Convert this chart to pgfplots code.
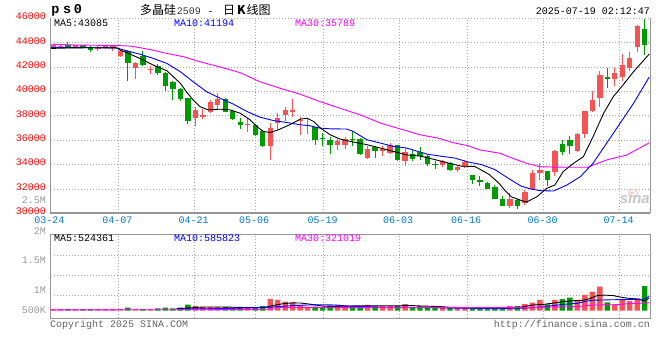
\documentclass[border=0pt]{standalone}
\usepackage{fontspec}
\setmainfont{Liberation Mono}
\newfontfamily\cjk{Noto Sans CJK SC}
\newfontfamily\sans{Liberation Sans}
\usepackage{pgfplots}
\pgfplotsset{compat=1.18}
\usepackage{pgfplotstable}

\definecolor{cred}{RGB}{246,84,84}
\definecolor{cgreen}{RGB}{0,155,0}
\definecolor{cmag}{RGB}{255,0,255}
\definecolor{cblue}{RGB}{0,0,255}
\definecolor{cgrid}{RGB}{165,165,165}
\definecolor{cframe}{RGB}{150,150,150}
\definecolor{cdate}{RGB}{0,119,204}
\definecolor{ctick}{RGB}{255,0,0}
\definecolor{cvlab}{RGB}{153,153,153}
\definecolor{ccopy}{RGB}{100,100,100}
\newcommand\fsz{\fontsize{10bp}{12bp}\selectfont}

% up (red) candles: index open high low close volume
\pgfplotstableread{
i o h l c v
0 43540 43850 43500 43800 70000
1 43650 43820 43600 43780 68000
3 43600 43850 43560 43800 70000
6 43520 43700 43350 43600 69000
7 43560 43760 43500 43720 70000
8 43600 43760 43350 43700 68000
9 42940 43400 42850 43350 70000
11 41960 42440 41030 42360 70000
13 41750 42090 41410 41850 68000
19 37810 38770 37130 38500 193000
20 37950 38580 37730 38060 152000
21 38280 39310 38220 39180 150000
22 38900 39860 38500 39390 150000
26 37230 37810 36670 37310 120000
29 35500 37400 34360 37000 490000
30 37400 38220 36860 37810 440000
31 38080 38690 37540 38500 370000
32 38360 39410 37950 38460 340000
33 37540 37900 36450 37680 235000
34 37200 37730 36530 37290 165000
38 35580 36100 35230 35910 235000
39 35580 36250 35300 36100 193000
42 34540 35500 34460 35310 235000
44 35090 35500 34680 35310 193000
45 34950 35780 34850 35640 193000
47 34270 35360 33900 35010 275000
52 34000 34400 33800 34270 123000
54 33530 33940 33370 33780 123000
55 33810 34410 33700 34220 123000
61 30590 31630 30400 31140 193000
63 30810 31900 30700 31790 275000
64 31960 33590 31900 33320 328000
65 33320 34140 32770 33590 440000
67 33370 35230 33050 35090 440000
70 35090 36590 35000 36530 440000
71 36510 38440 36180 38410 645000
72 38440 40050 38360 39310 780000
73 39500 41680 38770 41360 985000
75 41000 41900 40480 41490 258000
76 41220 43070 40900 42170 480000
77 41960 43210 41680 42770 398000
78 43620 45440 43210 45360 505000
}\up

% down (green) candles
\pgfplotstableread{
i o h l c v
2 43800 44030 43560 43600 72000
4 43790 43820 43540 43580 66000
5 43700 43730 43260 43420 72000
10 43350 43400 40900 42370 123000
12 42910 43320 42090 42200 72000
14 42090 42230 41360 41550 95000
15 41550 41600 40080 40490 125000
16 40760 40850 39290 40210 95000
17 40210 40300 39260 39370 123000
18 39450 39500 37350 37620 245000
23 39390 39450 38300 38360 148000
24 38410 38500 37670 37760 125000
25 37510 37840 36890 37270 123000
27 37270 37350 36310 36400 123000
28 36720 36850 35450 35500 190000
35 37080 37100 35580 35990 165000
36 36180 36590 35500 36100 135000
37 36040 36260 34900 35580 205000
40 36100 36720 35500 36020 193000
41 36100 36150 34800 34870 193000
43 35440 35500 34540 35090 193000
46 35640 35640 34330 34410 193000
48 34870 35170 34330 34460 123000
49 35010 35420 34410 34740 193000
50 34680 34750 33860 34080 123000
51 34060 34330 33640 33980 123000
53 34140 34200 33450 33530 123000
56 33120 33180 32440 32710 95000
57 32770 33050 32220 32550 95000
58 32490 32600 31980 32030 95000
59 32170 32300 31140 31190 95000
60 31190 31410 30560 30590 95000
62 31060 31140 30320 30590 193000
66 33510 33510 32230 32720 258000
68 35720 35990 34820 35010 480000
69 35990 36370 34900 35500 533000
74 41220 41900 40270 41030 340000
79 45170 45990 42990 43810 1013000
}\down

\pgfplotsset{
  kline/.style={
    scale only axis, width=599.5bp,
    xmin=-0.334, xmax=79.7,
    clip=false,
    scaled x ticks=false, scaled y ticks=false,
    major tick length=0pt, tick style={draw=none},
    major grid style={cgrid, line width=0.8bp, dash pattern=on 1bp off 2bp},
    xtick={-0.334,8.72,18.92,27.0,36.14,46.2,55.3,65.5,75.66},
  },
}

\begin{document}
\begin{tikzpicture}
\useasboundingbox (0,0) rectangle (660bp,360bp);
\fill[white] (0,0) rectangle (660bp,360bp);

% ---------------- price panel ----------------
\begin{axis}[kline,
  at={(50.5bp,146.7bp)}, anchor=south west, height=194.8bp,
  ymin=30000, ymax=46000,
  axis line style={draw=none},
  grid=major,
  ytick={30000,32000,34000,36000,38000,40000,42000,44000,46000},
  yticklabels={30000,32000,34000,36000,38000,40000,42000,44000,46000},
  yticklabel style={font=\fsz, text=ctick, anchor=east, inner sep=0pt, xshift=-4.5bp, yshift=2bp},
  xticklabels={03-24,04-07,04-21,05-06,05-19,06-03,06-16,06-30,07-14},
  xticklabel style={font=\fsz, text=cdate, anchor=north, inner sep=0pt, yshift=-3.4bp, xshift=-1bp},
]
% wicks
\addplot[draw=none, mark=none, forget plot,
  error bars/.cd, y dir=plus, y explicit, error mark=none,
  error bar style={draw=cred, line width=1bp}]
  table[x=i, y=l, y error plus expr=\thisrow{h}-\thisrow{l}] {\up};
\addplot[draw=none, mark=none, forget plot,
  error bars/.cd, y dir=plus, y explicit, error mark=none,
  error bar style={draw=cgreen, line width=1bp}]
  table[x=i, y=l, y error plus expr=\thisrow{h}-\thisrow{l}] {\down};
% bodies
\addplot[draw=none, mark=none, forget plot,
  error bars/.cd, y dir=plus, y explicit, error mark=none,
  error bar style={draw=cred, line width=5.4bp}]
  table[x=i, y=o, y error plus expr=\thisrow{c}-\thisrow{o}] {\up};
\addplot[draw=none, mark=none, forget plot,
  error bars/.cd, y dir=plus, y explicit, error mark=none,
  error bar style={draw=cgreen, line width=5.4bp}]
  table[x=i, y=c, y error plus expr=\thisrow{o}-\thisrow{c}] {\down};
% MA30
\addplot[cmag, line width=0.9bp, mark=none] coordinates {
(-0.33,43890) (3,43820) (8.5,43780) (10.4,43730) (12.9,43460) (15.2,43130) (17.4,42860) (19.6,42450) (22.3,42020) (25,41550) (27.6,40810) (30.3,40270) (33,39780) (35.6,39180) (38.3,38630) (41,38090) (43.7,37410) (46.4,36920) (49,36450) (51.7,36130) (53.4,35800) (55.4,35550) (57,35200) (59.7,34930) (61,34600) (63.2,34110) (65,33830) (67,33790) (71.3,33780) (73.9,34380) (76.6,34790) (79.6,35789)};
% MA10
\addplot[cblue, line width=0.9bp, mark=none] coordinates {
(-0.33,43620) (5,43600) (8.5,43580) (9.8,43350) (11.6,43070) (13.4,42720) (15.2,42310) (17,41630) (18.7,40810) (20.5,39990) (22.3,39450) (24,38990) (25.9,38360) (27.6,37900) (29.4,37620) (31.2,37460) (33,37270) (34.3,37190) (35.6,37000) (37,36940) (39.2,36920) (40.1,36720) (41.9,36040) (43.7,35770) (45.4,35500) (47.2,35360) (50,34850) (51.8,34690) (53.6,34540) (55.4,34220) (57.2,34000) (59,33590) (60.7,32910) (62.5,32230) (63.7,32010) (65,31860) (66.8,31830) (68.6,32320) (70.4,33010) (72.1,34110) (73.9,35750) (75.7,37390) (77.5,39030) (79.6,41194)};
% MA5
\addplot[black, line width=0.9bp, mark=none] coordinates {
(-0.33,43540) (2,43580) (5,43600) (8.5,43590) (9.0,43400) (9.8,43210) (11.6,42720) (13.4,42170) (15.2,41710) (17,40680) (17.8,39990) (18.7,39310) (19.6,38770) (20.7,38500) (22.3,38550) (23.6,38500) (25,38220) (26.3,37680) (27.2,37130) (28.1,36720) (29,36640) (30.1,36860) (31.6,37270) (33,37730) (33.9,37810) (34.8,37540) (35.6,37050) (37,36450) (38.3,36100) (40.1,35850) (41.9,35640) (43.7,35360) (45.4,35090) (47.2,34800) (49,34700) (51,34410) (52.7,34140) (54.5,33870) (56.3,33850) (58.2,33200) (59.5,32500) (60.3,31900) (61.2,31350) (62.5,31060) (63.2,30920) (64.6,31360) (65.9,32050) (67,32320) (68.1,33420) (69.5,34110) (70.8,34650) (72.1,36290) (73.5,38210) (74.8,39580) (76.1,40540) (77.5,41630) (79.6,43085)};
% frame
\draw[cframe, line width=1bp] (rel axis cs:0,0) -- (rel axis cs:0,1);
\draw[cframe, line width=1bp] (rel axis cs:1,0) -- (rel axis cs:1,1);
\draw[cframe, line width=1.6bp] (rel axis cs:0,0) -- (rel axis cs:1,0);
\end{axis}

% ---------------- volume panel ----------------
\begin{axis}[kline,
  at={(50.5bp,42bp)}, anchor=south west, height=84bp,
  ymin=-299000, ymax=3145000,
  axis line style={cframe, line width=1bp},
  xmajorgrids=true, ymajorgrids=false,
  xticklabels={},
  ytick={2078700,828000,8000},
  yticklabels={1.5M,1M,500K},
  yticklabel style={font=\fsz, text=cvlab, anchor=east, inner sep=0pt, xshift=-4.5bp},
  extra y ticks={615000,1435000,2255000},
  extra y tick labels={},
  extra y tick style={grid=major},
]
\addplot[ybar, bar width=5.4bp, bar shift=0pt, fill=cred, draw=none, forget plot]
  table[x=i, y=v] {\up};
\addplot[ybar, bar width=5.4bp, bar shift=0pt, fill=cgreen, draw=none, forget plot]
  table[x=i, y=v] {\down};
% volume MA5
\addplot[black, line width=0.9bp, mark=none] coordinates {
(16.5,82000) (18,110000) (20,150000) (21.4,150000) (23,150000) (25,135000) (27,125000) (28.5,150000) (29.5,220000) (30.7,287000) (32,320000) (33,316000) (34,280000) (35,240000) (36,190000) (37,176000) (38,180000) (40,195000) (42,205000) (44,205000) (46,200000) (47.5,215000) (49,195000) (51.6,170000) (53,140000) (55,125000) (57,110000) (60.1,100000) (61.5,120000) (62.7,160000) (64,230000) (65.5,260000) (67,320000) (68.1,370000) (69.5,410000) (70.8,430000) (71.7,500000) (72.6,615000) (73.5,640000) (74.8,620000) (75.7,560000) (76.8,510000) (77.9,480000) (79,400000) (79.6,524361)};
% volume MA10
\addplot[cblue, line width=0.9bp, mark=none] coordinates {
(16.5,70000) (21.4,82000) (25,110000) (28.5,135000) (30,170000) (32,210000) (34,235000) (36,245000) (37.5,235000) (39,200000) (41,170000) (44,140000) (48,135000) (51.6,120000) (55,100000) (60,95000) (62.7,105000) (64,125000) (65.5,160000) (67,220000) (68.5,270000) (70,300000) (71,380000) (72,430000) (74.8,450000) (77,460000) (78.8,470000) (79.6,585823)};
% volume MA30
\addplot[cmag, line width=0.9bp, mark=none] coordinates {
(-0.33,35000) (20,40000) (28.5,60000) (30,130000) (37,135000) (50,130000) (60,125000) (64,125000) (66,150000) (70,170000) (72,230000) (75,245000) (77,290000) (79.6,321019)};
\end{axis}

% ---------------- texts ----------------
\fsz
% title
\node[anchor=base, inner sep=0pt, font=\fontsize{13.5bp}{15bp}\selectfont\bfseries] at (55.3bp,346bp) {p};
\node[anchor=base, inner sep=0pt, font=\fontsize{13.5bp}{15bp}\selectfont\bfseries] at (67.2bp,346bp) {s};
\node[anchor=base, inner sep=0pt, font=\fontsize{13.5bp}{15bp}\selectfont\bfseries] at (77.9bp,346bp) {0};
\node[anchor=base west, inner sep=0pt, font=\cjk\fontsize{12bp}{14bp}\selectfont] at (140bp,345bp) {多晶硅};
\node[anchor=base west, inner sep=0pt, text=black!80, font=\fsz] at (176.7bp,345bp) {2509};
\node[anchor=base west, inner sep=0pt, font=\fsz] at (207.5bp,345bp) {-};
\node[anchor=base west, inner sep=0pt, font=\cjk\fontsize{12bp}{14bp}\selectfont] at (223bp,345bp) {日};
\node[anchor=base west, inner sep=0pt, font=\cjk\fontsize{12bp}{14bp}\selectfont\bfseries] at (237bp,345bp) {K};
\node[anchor=base west, inner sep=0pt, font=\cjk\fontsize{12bp}{14bp}\selectfont] at (246.5bp,345bp) {线图};
\node[anchor=base east, inner sep=0pt, font=\fsz] at (650bp,345bp) {2025-07-19 02:12:47};
% MA labels, price panel
\node[anchor=west, inner sep=0pt, text=black] at (54bp,336.5bp) {MA5:43085};
\node[anchor=west, inner sep=0pt, text=cblue] at (174bp,336.5bp) {MA10:41194};
\node[anchor=west, inner sep=0pt, text=cmag] at (295bp,336.5bp) {MA30:35789};
% MA labels, volume panel
\node[anchor=west, inner sep=0pt, text=black] at (54bp,121.5bp) {MA5:524361};
\node[anchor=west, inner sep=0pt, text=cblue] at (174bp,121.5bp) {MA10:585823};
\node[anchor=west, inner sep=0pt, text=cmag] at (295bp,121.5bp) {MA30:321019};
% stray volume labels
\node[anchor=east, inner sep=0pt, text=cvlab] at (46bp,129bp) {2M};
\node[anchor=east, inner sep=0pt, text=cvlab] at (46bp,160bp) {2.5M};
% sina watermark
\draw[cred!30, line width=1.2bp] (633bp,167bp) ellipse (4.5bp and 3.5bp);
\fill[cred!30] (633bp,167bp) circle (1.3bp);
\node[anchor=base east, inner sep=0pt, text=black!22, font=\sans\bfseries\itshape\fontsize{15bp}{16bp}\selectfont] at (650bp,156bp) {sina};
% footer
\node[anchor=base west, inner sep=0pt, text=ccopy] at (50bp,32.5bp) {Copyright 2025 SINA.COM};
\node[anchor=base east, inner sep=0pt, text=ccopy] at (650bp,32.5bp) {http://finance.sina.com.cn};
\end{tikzpicture}
\end{document}
